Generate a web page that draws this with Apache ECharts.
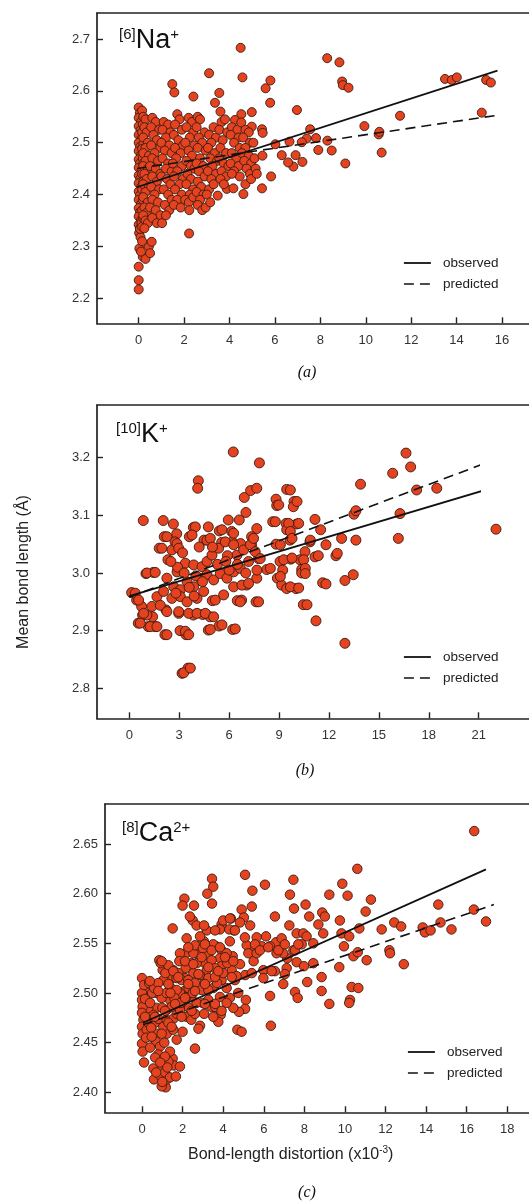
<!DOCTYPE html>
<html><head><meta charset="utf-8">
<script src="https://cdn.jsdelivr.net/npm/echarts@6/dist/echarts.min.js"></script>
<style>html,body{margin:0;padding:0;background:#fff}#c{width:529px;height:1201px}</style>
</head><body><div id="c"></div>
<script>
// ---------- DATA ----------
const naXTicks = [0, 2, 4, 6, 8, 10, 12, 14, 16];
const naYTicks = [2.2, 2.3, 2.4, 2.5, 2.6, 2.7];
const kXTicks = [0, 3, 6, 9, 12, 15, 18, 21];
const kYTicks = [2.8, 2.9, 3.0, 3.1, 3.2];
const caXTicks = [0, 2, 4, 6, 8, 10, 12, 14, 16, 18];
const caYTicks = [2.40, 2.45, 2.50, 2.55, 2.60, 2.65];

const naObserved = [[-0.1, 2.414], [15.8, 2.639]];
const naPredicted = [[-0.1, 2.45], [15.8, 2.553]];
const kObserved = [[0, 2.96], [22.1, 3.15]];
const kPredicted = [[0, 2.958], [21.9, 3.196]];
const caObserved = [[0.05, 2.47], [16.95, 2.6245]];
const caPredicted = [[0.05, 2.468], [17.34, 2.589]];

const naPoints = [
[0,2.568],[0.05,2.557],[0,2.548],[0.1,2.54],[0,2.532],[0.08,2.524],[0,2.515],[0.12,2.508],[0,2.5],[0.06,2.492],[0,2.484],[0.1,2.476],[0,2.468],[0.05,2.46],[0,2.452],[0.12,2.445],[0,2.437],[0.07,2.43],[0,2.422],[0.1,2.414],[0,2.406],[0.05,2.398],[0,2.39],[0.1,2.382],[0,2.374],[0.06,2.366],[0,2.358],[0.1,2.35],[0,2.342],[0.05,2.334],[0.02,2.326],[0.08,2.318],[0.03,2.296],[0,2.261],[0,2.235],[0,2.217],[0.18,2.28],[0.3,2.276],[0.45,2.3],[0.5,2.287],[0.57,2.309],[0.1,2.29],[0.15,2.31],[0.06,2.334],[0.12,2.345],
[0.15,2.562],[0.18,2.535],[0.15,2.52],[0.2,2.497],[0.15,2.488],[0.18,2.47],[0.2,2.46],[0.15,2.44],[0.2,2.425],[0.15,2.41],[0.18,2.39],[0.15,2.37],[0.2,2.355],[0.15,2.338],
[0.2,2.55],[0.3,2.545],[0.25,2.53],[0.35,2.52],[0.2,2.51],[0.4,2.5],[0.3,2.49],[0.2,2.48],[0.45,2.475],[0.3,2.465],[0.2,2.455],[0.4,2.45],[0.25,2.44],[0.35,2.43],[0.2,2.42],[0.45,2.415],[0.3,2.405],[0.2,2.395],[0.4,2.385],[0.25,2.375],[0.35,2.365],[0.2,2.36],[0.3,2.35],[0.4,2.345],[0.25,2.335],
[0.6,2.548],[0.75,2.54],[0.55,2.53],[0.9,2.525],[0.65,2.515],[0.8,2.505],[0.55,2.495],[0.95,2.49],[0.7,2.48],[0.6,2.47],[0.85,2.465],[0.5,2.455],[0.75,2.45],[0.95,2.44],[0.6,2.435],[0.8,2.425],[0.55,2.415],[0.9,2.41],[0.7,2.4],[0.6,2.39],[0.85,2.385],[0.5,2.375],[0.75,2.37],[0.95,2.36],[0.6,2.355],[0.8,2.345],
[1.1,2.54],[1.3,2.535],[1.05,2.525],[1.4,2.52],[1.2,2.51],[1.0,2.5],[1.35,2.495],[1.15,2.485],[1.45,2.48],[1.05,2.47],[1.3,2.46],[1.2,2.45],[1.45,2.445],[1.0,2.435],[1.25,2.43],[1.4,2.42],[1.1,2.41],[1.3,2.4],[1.45,2.39],[1.15,2.38],[1.35,2.37],[1.03,2.345],[1.2,2.36],
[1.48,2.613],[1.57,2.597],[1.7,2.555],[1.8,2.545],[1.6,2.535],[1.9,2.525],[1.55,2.515],[1.75,2.505],[1.95,2.495],[1.6,2.49],[1.85,2.48],[1.65,2.47],[1.5,2.46],[1.9,2.455],[1.7,2.445],[1.55,2.435],[1.95,2.43],[1.8,2.42],[1.6,2.41],[1.9,2.4],[1.7,2.39],[1.55,2.38],[1.85,2.375],
[2.41,2.589],[2.2,2.548],[2.35,2.54],[2.1,2.53],[2.4,2.52],[2.25,2.51],[2.05,2.5],[2.45,2.495],[2.2,2.485],[2.35,2.475],[2.1,2.465],[2.3,2.455],[2.45,2.45],[2.15,2.44],[2.3,2.43],[2.1,2.42],[2.4,2.41],[2.25,2.4],[2.05,2.39],[2.21,2.385],[2.23,2.37],[2.22,2.325],[2.4,2.395],
[2.6,2.55],[2.7,2.545],[2.55,2.53],[2.9,2.52],[2.65,2.51],[2.8,2.5],[2.6,2.49],[2.95,2.485],[2.7,2.47],[2.55,2.46],[2.85,2.455],[2.65,2.445],[2.9,2.435],[2.6,2.425],[2.75,2.415],[2.55,2.405],[2.85,2.4],[2.7,2.39],[2.6,2.38],[2.8,2.37],[2.95,2.375],
[3.1,2.634],[3.36,2.577],[3.3,2.53],[3.1,2.515],[3.4,2.51],[3.2,2.5],[3.05,2.49],[3.35,2.48],[3.15,2.47],[3.45,2.465],[3.25,2.455],[3.05,2.445],[3.4,2.44],[3.2,2.43],[3.1,2.41],[3.3,2.42],[3.0,2.4],[3.48,2.398],[3.15,2.385],
[3.55,2.596],[3.6,2.56],[3.65,2.54],[3.8,2.545],[3.55,2.525],[3.9,2.52],[3.7,2.505],[3.6,2.49],[3.85,2.48],[3.55,2.47],[3.75,2.46],[3.95,2.455],[3.65,2.445],[3.85,2.435],[3.6,2.43],[3.88,2.411],[3.75,2.42],
[4.49,2.683],[4.24,2.544],[4.1,2.53],[4.35,2.525],[4.05,2.515],[4.4,2.51],[4.2,2.5],[4.45,2.49],[4.1,2.48],[4.3,2.47],[4.05,2.46],[4.4,2.455],[4.2,2.445],[4.45,2.435],[4.17,2.412],[4.1,2.44],
[4.57,2.626],[4.52,2.555],[4.52,2.539],[4.98,2.559],[4.98,2.531],[4.7,2.525],[4.85,2.52],[4.6,2.51],[4.9,2.5],[4.7,2.49],[4.55,2.48],[4.85,2.475],[4.65,2.465],[4.95,2.46],[4.75,2.45],[4.9,2.44],[4.61,2.401],[4.7,2.42],[4.95,2.43],
[5.05,2.5],[5.1,2.47],[5.15,2.45],[5.43,2.526],[5.46,2.519],[5.45,2.475],[5.43,2.412],[5.83,2.435],[5.2,2.44],
[5.8,2.62],[5.59,2.605],[5.79,2.577],[6.97,2.563],[8.3,2.663],[8.84,2.655],[8.96,2.618],[8.99,2.611],[9.24,2.606],[13.49,2.623],[13.79,2.621],[14.01,2.626],[15.3,2.621],[15.51,2.616],[15.11,2.558],[11.51,2.552],[9.94,2.532],[10.57,2.516],[10.6,2.521],[10.7,2.481],[9.1,2.46],[8.5,2.485],[7.91,2.486],[8.31,2.504],[7.81,2.509],[7.55,2.526],[7.4,2.508],[7.18,2.501],[6.91,2.476],[7.21,2.463],[6.81,2.454],[6.58,2.462],[6.3,2.476],[6.64,2.502],[6.02,2.497]
];

const kPoints = [
[6.25,3.21],[7.82,3.191],[4.15,3.16],[4.11,3.147],[0.84,3.091],[2.04,3.091],[2.65,3.085],[2.1,3.063],[1.8,3.043],[2.85,3.068],[2.75,3.054],[1.0,2.999],[1.44,3.001],[0.14,2.966],[0.44,2.953],[0.74,2.942],[0.54,2.913],[0.8,2.927],[1.14,2.907],[1.54,2.907],[1.4,2.924],[2.14,2.893],[3.05,2.9],[3.41,2.893],[3.17,2.826],[3.53,2.835],[2.2,2.936],[2.97,2.93],[4.75,2.901],[5.39,2.908],[6.21,2.902],[4.41,2.928],[4.85,2.924],[3.85,2.927],[4.99,2.952],[6.49,2.952],[6.75,2.953],[7.62,2.95],[7.66,2.991],[7.05,2.979],[5.95,3.092],[6.61,3.092],[7.01,3.105],[6.91,3.131],[7.29,3.143],[7.66,3.147],[7.66,3.077],[3.85,3.079],[3.61,3.063],[4.75,3.08],[4.49,3.057],[4.75,3.057],[5.41,3.073],[5.55,3.053],[6.15,3.072],[6.19,3.054],[6.69,3.051],[7.35,3.063],[7.35,3.049],[7.77,3.025],[8.26,3.006],[8.62,3.089],[8.82,3.128],[8.86,3.117],[9.46,3.145],[9.9,3.124],[9.86,3.115],[9.42,3.086],[9.46,3.075],[10.06,3.085],[9.66,3.057],[8.82,3.05],[9.06,3.02],[9.22,3.005],[8.9,2.991],[9.16,2.979],[9.46,2.973],[10.02,2.973],[9.7,3.024],[10.26,3.023],[10.36,3.006],[10.36,3.0],[10.46,2.945],[10.56,3.037],[10.86,3.054],[11.16,3.093],[11.16,3.028],[11.36,3.03],[11.5,3.075],[11.82,3.049],[11.22,2.917],[11.62,2.983],[11.82,2.981],[12.42,3.03],[12.5,3.034],[12.76,3.06],[12.96,2.987],[12.96,2.878],[13.46,2.997],[13.5,3.102],[13.62,3.108],[13.62,3.057],[13.9,3.154],[15.83,3.173],[16.63,3.208],[16.91,3.184],[17.27,3.144],[18.48,3.147],[16.27,3.103],[16.17,3.06],[22.04,3.076],
[0.36,2.965],[0.56,2.953],[1.06,3.0],[1.56,3.001],[1.96,3.043],[2.26,3.063],[2.56,3.04],[2.87,3.051],[2.97,3.043],[2.32,3.023],[2.87,3.002],[3.37,3.017],[3.87,3.014],[4.37,3.011],[4.67,3.02],[4.97,3.031],[5.37,3.043],[5.77,3.054],[6.27,3.049],[6.47,3.031],[6.87,3.04],[7.27,3.049],[7.47,3.06],[7.57,3.037],[7.87,3.025],[6.27,3.069],[4.67,3.057],[4.87,3.06],[3.97,3.08],[3.77,3.066],[5.57,3.075],
[2.26,2.991],[2.67,2.976],[3.07,2.971],[3.47,2.985],[3.87,2.976],[4.27,2.991],[4.67,2.997],[5.07,2.988],[5.47,2.999],[5.87,2.991],[6.27,3.002],[6.67,3.008],[7.17,3.02],[7.67,3.005],[8.48,3.008],
[1.66,2.959],[2.06,2.968],[2.56,2.956],[3.07,2.959],[3.47,2.95],[4.07,2.956],[4.47,2.968],[5.17,2.953],[5.67,2.962],[6.27,2.976],[6.77,2.979],[7.17,2.982],
[1.36,2.942],[1.86,2.944],[2.26,2.933],[2.97,2.933],[3.57,2.93],[4.07,2.93],[4.57,2.93],[5.07,2.924],[6.67,2.95],[7.77,2.95],[1.06,2.927],[0.66,2.913],[1.26,2.907],[1.66,2.907],[0.86,2.93],[2.26,2.893],[3.37,2.899],[3.57,2.893],[4.87,2.902],[5.57,2.91],[6.37,2.903],[3.27,2.827],[3.67,2.835],
[8.78,3.089],[8.98,3.118],[9.68,3.144],[10.08,3.124],[9.58,3.086],[10.18,3.086],[9.68,3.072],[9.78,3.06],[9.08,3.049],[9.28,3.023],[9.78,3.026],[10.48,3.023],[10.88,3.057],[10.68,2.945],[9.08,2.994],[9.68,2.976],[10.18,2.974],[10.58,3.008],[10.58,2.999],
[2.9,3.01],[3.3,3.0],[3.6,2.975],[4.0,2.995],[4.4,2.985],[5.3,3.015],[5.9,3.03],[6.5,3.015],[7.0,3.0],[2.5,3.02],[3.2,3.035],[4.2,3.045],[5.0,3.045],[5.8,3.02],[6.0,3.005],[3.9,2.96],[2.8,2.965]
];

const caPoints = [
[16.37,2.663],[10.61,2.625],[11.28,2.594],[11.02,2.582],[9.87,2.61],[10.13,2.598],[9.23,2.599],[9.75,2.573],[9.83,2.56],[10.21,2.557],[9.95,2.547],[10.71,2.565],[10.42,2.537],[10.63,2.541],[11.07,2.533],[10.33,2.506],[10.66,2.505],[10.25,2.493],[10.21,2.49],[9.72,2.526],[9.23,2.489],[8.85,2.502],[8.85,2.516],[8.88,2.581],[9.01,2.577],[8.93,2.56],[8.69,2.569],[8.06,2.589],[8.24,2.577],[7.46,2.614],[7.29,2.599],[7.49,2.585],[7.26,2.568],[7.62,2.56],[7.95,2.56],[8.11,2.557],[8.44,2.55],[7.46,2.543],[7.87,2.549],[7.62,2.531],[7.98,2.527],[8.44,2.53],[7.16,2.535],[6.96,2.54],[6.63,2.54],[7.13,2.525],[7.54,2.501],[7.67,2.495],[8.14,2.511],[6.96,2.509],[6.6,2.551],[6.88,2.555],[6.55,2.577],[6.06,2.609],[6.11,2.557],[6.31,2.547],[5.98,2.523],[6.31,2.497],[6.35,2.467],[6.55,2.522],[5.98,2.515],[5.52,2.547],[5.65,2.556],[5.5,2.532],[5.41,2.587],[5.44,2.603],[5.08,2.619],[4.91,2.584],[5.33,2.568],[5.02,2.576],[4.83,2.571],[5.16,2.548],[5.24,2.54],[5.08,2.518],[5.12,2.493],[5.08,2.484],[4.78,2.481],[4.7,2.463],[4.91,2.461],
[4.38,2.575],[4.53,2.563],[4.3,2.564],[4.33,2.552],[4.47,2.537],[4.42,2.523],[4.58,2.513],[4.17,2.505],[4.33,2.495],[3.92,2.569],[3.84,2.564],[3.92,2.543],[3.65,2.547],[3.84,2.535],[3.92,2.527],[3.92,2.513],[3.84,2.496],[3.88,2.478],[3.76,2.471],[3.45,2.615],[3.51,2.607],[3.45,2.59],[3.22,2.6],[3.19,2.563],[3.05,2.552],[2.86,2.548],[2.82,2.538],[3.02,2.531],[3.19,2.523],[3.1,2.511],[2.94,2.503],[3.51,2.505],[3.43,2.486],[3.51,2.476],[2.99,2.49],[2.86,2.467],[2.78,2.464],[2.61,2.444],[2.56,2.588],[2.5,2.573],[2.36,2.577],[2.69,2.568],[2.43,2.53],[2.53,2.52],[2.2,2.555],[2.17,2.54],[2.09,2.595],[2.0,2.588],[1.87,2.54],[1.84,2.532],[2.15,2.525],[2.12,2.515],[2.09,2.502],[2.0,2.49],[2.0,2.461],[1.71,2.453],[1.51,2.565],[1.54,2.523],[1.51,2.515],[1.38,2.506],[1.38,2.493],[1.22,2.483],[1.02,2.523],[1.05,2.513],[0.85,2.533],[0.92,2.53],[0.72,2.5],[0.97,2.495],[0.72,2.485],[0.56,2.478],[0.31,2.485],[0.23,2.5],
[0,2.515],[0,2.5],[0,2.493],[0.03,2.486],[0,2.48],[0.07,2.473],[0,2.466],[0.03,2.459],[0,2.449],[0.03,2.441],[0.23,2.463],[0.48,2.456],[0.31,2.47],[0.64,2.47],[0.72,2.459],[0.69,2.451],[0.89,2.446],[0.8,2.438],[0.56,2.424],[0.59,2.413],[0.89,2.417],[0.97,2.424],[1.05,2.409],[1.17,2.405],[0.97,2.406],[1.22,2.413],[1.13,2.42],[1.38,2.415],[1.51,2.434],[1.58,2.427],[1.67,2.416],[1.87,2.426],[1.3,2.431],[1.38,2.441],[1.13,2.436],[1.22,2.459],[1.54,2.463],[1.05,2.466],[0.8,2.474],[1.22,2.473],[1.54,2.474],[1.71,2.479],[1.46,2.486],[1.87,2.483],[2.2,2.476],[2.43,2.473],[2.32,2.485],[2.61,2.479],[2.69,2.49],[2.43,2.496],[2.18,2.496],[1.87,2.5],[1.71,2.503],[1.95,2.513],[1.79,2.52],[2.28,2.513],[2.61,2.51],[2.86,2.518],[3.27,2.515],[3.27,2.503],[3.27,2.493],[3.6,2.486],[3.06,2.479],[2.53,2.54],[2.61,2.548],[2.86,2.557],[3.27,2.54],[3.43,2.533],[3.06,2.568],[3.51,2.549],[4.17,2.54],[4.66,2.517],[4.83,2.529],[5.41,2.52],[5.65,2.54],[5.9,2.547],[4.74,2.5],[4.5,2.485],[4.17,2.49],
[0.1,2.508],[0.15,2.494],[0.4,2.49],[0.5,2.5],[0.35,2.51],[0.6,2.505],[0.8,2.51],[0.45,2.465],[0.15,2.476],[0.2,2.455],[0.1,2.43],[0.4,2.445],[0.65,2.435],[0.7,2.42],[0.9,2.43],[1.1,2.45],[1.3,2.47],[1.0,2.485],[1.2,2.5],[1.6,2.495],[1.4,2.5],[1.15,2.52],[1.3,2.528],[1.7,2.515],[1.9,2.49],[2.3,2.505],[2.5,2.5],[2.7,2.53],[3.0,2.545],[3.6,2.525],[3.7,2.51],[4.0,2.52],[4.2,2.53],[1.0,2.4105],[1.25,2.425],
[0.97,2.532],[1.54,2.522],[2.12,2.532],[2.28,2.546],[2.53,2.529],[3.1,2.549],[3.43,2.543],[3.84,2.546],[4.09,2.536],[4.5,2.532],[4.42,2.516],[3.6,2.516],[3.1,2.509],[2.61,2.502],[2.12,2.495],[1.63,2.489],[1.13,2.482],[0.64,2.476],[3.1,2.489],[3.6,2.489],[3.92,2.482],[1.95,2.476],[2.45,2.482],[1.46,2.466],[0.97,2.459],[0.48,2.456],[0.8,2.502],[0.39,2.512],[1.3,2.509],[1.79,2.516],[2.28,2.509],[2.78,2.519],[3.27,2.526],[3.76,2.522],[2.94,2.536],[3.6,2.563],[4.0,2.573],[4.33,2.575],[4.58,2.563],[5.07,2.556],[5.57,2.549],[5.81,2.543],[6.22,2.546],[6.72,2.543],[7.04,2.549],[7.54,2.543],[7.7,2.549],[6.39,2.522],[7.04,2.519],
[11.81,2.564],[12.43,2.571],[12.19,2.543],[12.22,2.54],[12.77,2.567],[12.9,2.529],[13.83,2.566],[13.94,2.561],[14.22,2.563],[14.6,2.589],[14.71,2.571],[15.25,2.564],[16.35,2.584],[16.95,2.572]
];

// ---------- CHART ----------
const FONT = '"Liberation Sans", Arial, sans-serif';
const FRAME = { color: '#222', width: 1.7 };
// data grid = rectangle spanned by first/last tick; frame = the drawn box
const panels = [
  { pts: naPoints, obs: naObserved, pred: naPredicted, xt: naXTicks, yt: naYTicks, dec: 1, size: 9,
    data: { left: 138.7, top: 39, width: 363.3, height: 259.3 },
    frame: { left: 97, top: 13, right: 0, height: 310.3 }, legendTop: 256, legendLeft: 403 },
  { pts: kPoints, obs: kObserved, pred: kPredicted, xt: kXTicks, yt: kYTicks, dec: 1, size: 10,
    data: { left: 129.3, top: 457.7, width: 349.4, height: 230.6 },
    frame: { left: 97, top: 405, right: 0, height: 313.3 }, legendTop: 650, legendLeft: 403 },
  { pts: caPoints, obs: caObserved, pred: caPredicted, xt: caXTicks, yt: caYTicks, dec: 2, size: 9.5,
    data: { left: 142, top: 844, width: 365.3, height: 248.3 },
    frame: { left: 105, top: 804, right: 0, height: 308.3 }, legendTop: 1045, legendLeft: 407 }
];

const grid = [], xData = [], xFrameB = [], xFrameT = [], yData = [], yFrame = [], series = [], legend = [];
const N = panels.length;
panels.forEach((p, i) => {
  const xStep = +(p.xt[1] - p.xt[0]).toFixed(6);
  const yStep = +(p.yt[1] - p.yt[0]).toFixed(6);
  const d = p.data, f = p.frame;
  grid[i] = Object.assign({ show: false }, d);
  grid[N + i] = Object.assign({ show: false }, f);
  const yOffset = d.left - f.left;
  const xOffset = (f.top + f.height) - (d.top + d.height);
  xData.push({
    type: 'value', gridIndex: i, min: p.xt[0], max: p.xt[p.xt.length - 1], interval: xStep, position: 'bottom', offset: xOffset,
    axisLine: { show: false, onZero: false }, splitLine: { show: false },
    axisTick: { show: true, inside: true, length: 6, lineStyle: { color: '#222', width: 1.4 } },
    axisLabel: { show: true, margin: 11, fontSize: 13, color: '#333', fontFamily: FONT, formatter: v => String(v) }
  });
  yData.push({
    type: 'value', gridIndex: i, min: p.yt[0], max: p.yt[p.yt.length - 1], interval: yStep, position: 'left', offset: yOffset,
    axisLine: { show: false, onZero: false }, splitLine: { show: false },
    axisTick: { show: true, inside: true, length: 6, lineStyle: { color: '#222', width: 1.4 } },
    axisLabel: { show: true, margin: 7, fontSize: 13, color: '#333', fontFamily: FONT, formatter: v => v.toFixed(p.dec) }
  });
  const frameAxis = { type: 'value', gridIndex: N + i, min: 0, max: 1,
    axisLine: { show: true, onZero: false, lineStyle: FRAME }, splitLine: { show: false }, axisTick: { show: false }, axisLabel: { show: false } };
  xFrameB.push(Object.assign({}, frameAxis, { position: 'bottom' }));
  xFrameT.push(Object.assign({}, frameAxis, { position: 'top' }));
  yFrame.push(Object.assign({}, frameAxis, { position: 'left' }));

  series.push({
    type: 'scatter', name: 'points', xAxisIndex: i, yAxisIndex: i, data: p.pts, clip: false,
    symbol: 'circle', symbolSize: p.size,
    itemStyle: { color: '#e5431f', borderColor: '#3a1c12', borderWidth: 0.9, opacity: 1 },
    z: 2, silent: true
  });
  series.push({
    type: 'line', name: 'observed', xAxisIndex: i, yAxisIndex: i, data: p.obs, clip: false,
    symbol: 'none', showSymbol: false, lineStyle: { color: '#111', width: 1.8, type: 'solid' }, itemStyle: { color: '#111' }, z: 3, silent: true
  });
  series.push({
    type: 'line', name: 'predicted', xAxisIndex: i, yAxisIndex: i, data: p.pred, clip: false,
    symbol: 'none', showSymbol: false, lineStyle: { color: '#111', width: 1.6, type: [10, 6] }, itemStyle: { color: '#111' }, z: 3, silent: true
  });
  legend.push({
    data: [
      { name: 'observed', lineStyle: { type: 'solid', width: 1.8, color: '#111' } },
      { name: 'predicted', lineStyle: { type: [10, 6], width: 1.6, color: '#111' } }
    ],
    orient: 'vertical', left: p.legendLeft, top: p.legendTop,
    itemWidth: 27, itemHeight: 14, itemGap: 7, selectedMode: false, padding: 0,
    itemStyle: { opacity: 0, borderWidth: 0 },
    textStyle: { fontSize: 13.5, color: '#222', fontFamily: FONT, padding: [0, 0, 0, 7] }
  });
});

const richLabel = {
  s: { fontSize: 15, fontFamily: FONT, verticalAlign: 'top', lineHeight: 28, fill: '#111' },
  m: { fontSize: 27, fontFamily: FONT, lineHeight: 28, fill: '#111' }
};
const graphic = [
  { type: 'text', left: 119, top: 27, style: { text: '{s|[6]}{m|Na}{s|+}', rich: richLabel, fill: '#111' } },
  { type: 'text', left: 116, top: 421, style: { text: '{s|[10]}{m|K}{s|+}', rich: richLabel, fill: '#111' } },
  { type: 'text', left: 122, top: 820, style: { text: '{s|[8]}{m|Ca}{s|2+}', rich: richLabel, fill: '#111' } },
  { type: 'text', x: 307, y: 373, style: { text: '(a)', font: 'italic 16px "Liberation Serif", serif', fill: '#111', align: 'center', verticalAlign: 'middle' } },
  { type: 'text', x: 305, y: 771, style: { text: '(b)', font: 'italic 16px "Liberation Serif", serif', fill: '#111', align: 'center', verticalAlign: 'middle' } },
  { type: 'text', x: 307, y: 1193, style: { text: '(c)', font: 'italic 16px "Liberation Serif", serif', fill: '#111', align: 'center', verticalAlign: 'middle' } },
  { type: 'text', x: 24, y: 572, rotation: Math.PI / 2, style: { text: 'Mean bond length (Å)', font: '16px "Liberation Sans", Arial, sans-serif', fill: '#222', align: 'center', verticalAlign: 'middle' } },
  { type: 'text', left: 188, top: 1145, style: { text: '{t|Bond-length distortion (x10}{p|-3}{t|)}', rich: {
      t: { fontSize: 16, fontFamily: FONT, lineHeight: 20, fill: '#222' },
      p: { fontSize: 10, fontFamily: FONT, lineHeight: 20, verticalAlign: 'top', fill: '#222' } }, fill: '#222' } }
];

const chart = echarts.init(document.getElementById('c'), null, { renderer: 'canvas' });
chart.setOption({
  animation: false, backgroundColor: '#fff', grid,
  xAxis: xData.concat(xFrameB, xFrameT), yAxis: yData.concat(yFrame),
  series, legend, graphic
});
</script>
</body></html>
